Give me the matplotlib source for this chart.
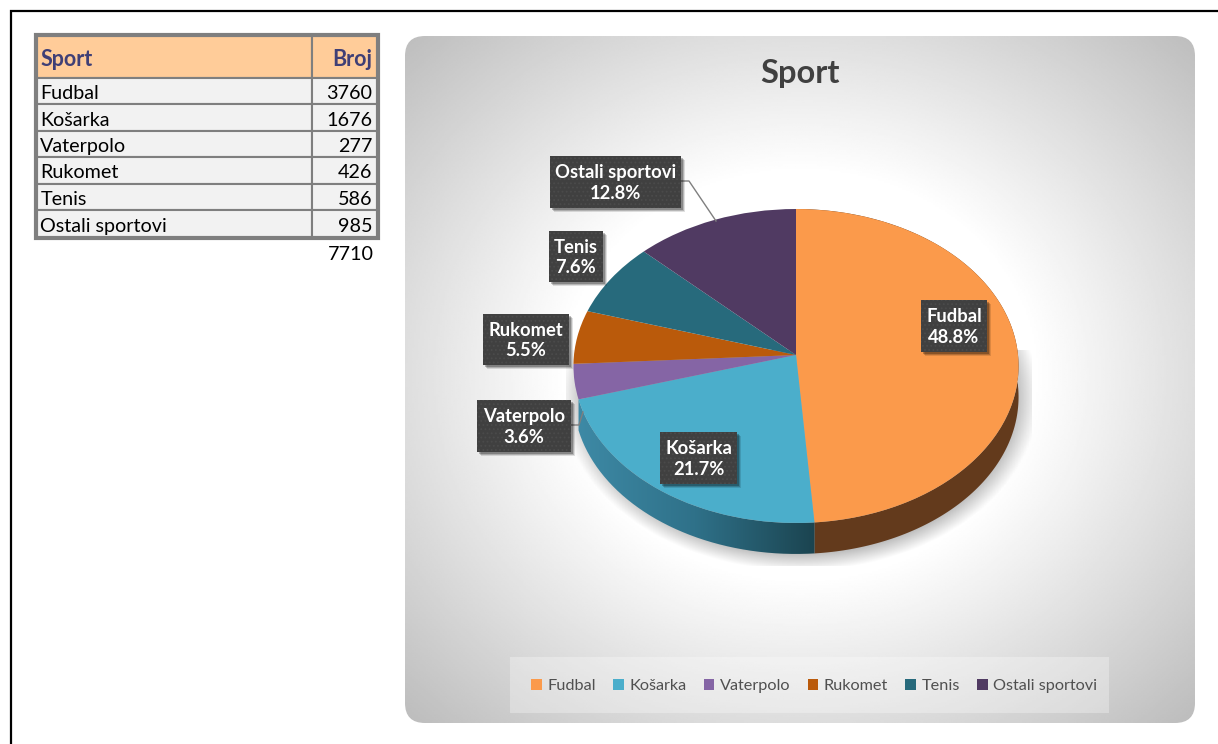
import numpy as np
import matplotlib
matplotlib.use("Agg")
import matplotlib.pyplot as plt
from matplotlib.patches import FancyBboxPatch, PathPatch, Patch, Rectangle
from matplotlib.path import Path
from matplotlib.transforms import Affine2D

plt.rcParams['font.family'] = ['Lato', 'DejaVu Sans']
plt.rcParams['hatch.linewidth'] = 0.8

sports = ["Fudbal", "Košarka", "Vaterpolo", "Rukomet", "Tenis", "Ostali sportovi"]
counts = [3760, 1676, 277, 426, 586, 985]
table_header = ["Sport", "Broj"]
top_colors = ["#FB9A4B", "#4BAECB", "#8565A5", "#BA5A0B", "#276A7C", "#503A62"]
side_color = "#633A1C"
side_gradient = ["#3E8AA6", "#2F7189", "#1B4450"]

W, H = 1218, 744

# layout, everything in picture pixels
CX, CY, RX, RY, TILT = 796, 355, 222, 156.2, 0.07
DEPTH = 31
label_boxes = [(921, 300, 66, 52), (660, 432, 77, 52), (477, 400, 94, 52),
               (483, 314, 86, 51), (549, 231, 54, 51), (550, 156, 131, 52)]
leaders = {5: [(681, 181), (689, 181), (716, 221)],
           2: [(571, 425), (579, 425), (583, 412)]}


def warp(x, y, dy=0):
    """Unit circle to the tilted disc (a plain perspective map)."""
    d = 1 + TILT * y
    return CX + RX * x / d, CY - RY * y / d + dy


def rim_band(a0, a1):
    """Side wall below the rim between two clock angles (radians from top)."""
    t = np.linspace(a0, a1, 200)
    x1, y1 = warp(np.sin(t), np.cos(t))
    x2, y2 = warp(np.sin(t[::-1]), np.cos(t[::-1]), DEPTH)
    return Path(np.column_stack([np.r_[x1, x2], np.r_[y1, y2]]))


fig = plt.figure(figsize=(W / 100, H / 100), dpi=100)
ax = fig.add_axes([0, 0, 1, 1])

# outer page frame
ax.plot([10.5, 10.5, W], [H, 10.5, 10.5], color="black", lw=1.6, solid_joinstyle="miter", zorder=1)

# chart panel, radial grey
panel = FancyBboxPatch((405, 36), 790, 687, boxstyle="round,pad=0,rounding_size=20",
                       facecolor="none", edgecolor="none", zorder=1)
ax.add_patch(panel)
gx, gy = np.meshgrid(np.linspace(405, 1195, 400), np.linspace(36, 723, 400))
dist = np.sqrt(((gx - 800) / 395) ** 2 + ((gy - 375) / 343) ** 2) / np.sqrt(2)
shade = 1 - 0.26 * np.clip((dist - 0.42) / 0.58, 0, 1)
im = ax.imshow(shade, extent=(405, 1195, 723, 36), cmap="gray", vmin=0, vmax=1,
               aspect="auto", zorder=1)
im.set_clip_path(panel)

# soft shadow under the pie, cut off by its rectangle like in the original
sx, sy = np.meshgrid(np.linspace(566, 1032, 300), np.linspace(350, 566, 200))
sd = np.sqrt(((sx - 800) / 233) ** 2 + ((sy - 396) / 170) ** 2)
rgba = np.zeros(sx.shape + (4,))
rgba[..., 3] = 0.34 * np.clip((1.03 - sd) / 0.13, 0, 1)
ax.imshow(rgba, extent=(566, 1032, 566, 350), aspect="auto", zorder=2)

# side wall
edges = np.r_[0, np.cumsum(counts)] / np.sum(counts) * 2 * np.pi
ax.add_patch(PathPatch(rim_band(edges[0], edges[1]), facecolor=side_color, edgecolor="none", zorder=3))
band = PathPatch(rim_band(edges[1], edges[2]), facecolor="none", edgecolor="none", zorder=3)
ax.add_patch(band)
grad = matplotlib.colors.LinearSegmentedColormap.from_list("side", side_gradient)
side_im = ax.imshow(np.linspace(0, 1, 256).reshape(1, -1), extent=(575, 815, 570, 390),
                    cmap=grad, aspect="auto", zorder=3)
side_im.set_clip_path(band)

# pie top, the wedges from ax.pie get pushed through the perspective map
wedges, _ = ax.pie(counts, colors=top_colors, startangle=90, counterclock=False,
                   wedgeprops={"linewidth": 0})
for w in wedges:
    p = w.get_path()
    xn, yn = warp(p.vertices[:, 0], p.vertices[:, 1])
    p.vertices = np.column_stack([xn, yn])
    w.set_zorder(4)

# leaders
for pts in leaders.values():
    ax.plot(*zip(*pts), color="#7F7F7F", lw=1, zorder=5)

# data labels
total = sum(counts)
for name, n, (x, y, bw, bh) in zip(sports, counts, label_boxes):
    for off, a in [(4, 0.12), (3, 0.18), (2, 0.25)]:
        ax.add_patch(Rectangle((x + off, y + off), bw, bh, facecolor="black", alpha=a,
                               edgecolor="none", zorder=6))
    ax.add_patch(Rectangle((x, y), bw, bh, facecolor="#404040", edgecolor="#4B4B4B",
                           hatch="....", lw=0, zorder=7))
    ax.text(x + bw / 2, y + bh / 2 + 1, f"{name}\n{n / total * 100:.1f}%", color="white", ha="center",
            va="center", fontsize=13.2, fontweight="bold", linespacing=1.25, zorder=8)

ax.text(800, 74, "Sport", ha="center", va="center", fontsize=23.5, fontweight="bold",
        color="#404040", zorder=8)

# legend
ax.add_patch(Rectangle((510, 657), 599, 56, facecolor="white", alpha=0.3, edgecolor="none", zorder=2))
handles = [Patch(facecolor=c, label=s) for c, s in zip(top_colors, sports)]
ax.legend(handles=handles, ncol=6, loc="center left", bbox_to_anchor=(531, 686),
          bbox_transform=ax.transData, frameon=False, fontsize=11.7, labelcolor="#505050",
          handlelength=0.65, handleheight=0.65, handletextpad=0.35, columnspacing=1.06,
          borderpad=0, borderaxespad=0)

ax.text(374, 254.5, str(total), ha="right", va="center", fontsize=14.2, color="black", zorder=8)

ax.set_aspect("auto")
ax.set_xlim(0, W)
ax.set_ylim(H, 0)
ax.axis("off")

# count table
tab_ax = fig.add_axes([36 / W, 1 - 238 / H, 342 / W, 203 / H])
tab_ax.axis("off")
rows = [[s, str(n)] for s, n in zip(sports, counts)]
tab = tab_ax.table(cellText=rows, colLabels=table_header, colWidths=[276, 66], bbox=[0, 0, 1, 1])
tab.auto_set_font_size(False)
tab.set_fontsize(14.2)
row_heights = [43, 26, 27, 26, 27, 26, 28]
for (r, c), cell in tab.get_celld().items():
    cell.set_height(row_heights[r])
    cell.set_linewidth(1.5)
    cell.set_edgecolor("#7F7F7F")
    cell.PAD = 0.016 if c == 0 else 0.085
    cell.set_facecolor("#FFCC99" if r == 0 else "#F2F2F2")
    cell.get_text().set_ha("left" if c == 0 else "right")
    cell._loc = "left" if c == 0 else "right"
    # cell text sits a little under the middle in the original
    cell.get_text().set_transform(Affine2D().translate(0, -2.5))
    if r == 0:
        cell.get_text().set_fontweight("bold")
        cell.get_text().set_fontsize(15.5)
        cell.get_text().set_color("#3F3F76")
tab_ax.add_patch(Rectangle((0, 0), 1, 1, transform=tab_ax.transAxes, fill=False,
                           edgecolor="#7F7F7F", lw=3, clip_on=False, zorder=10))

fig.savefig("out.png", dpi=100)
